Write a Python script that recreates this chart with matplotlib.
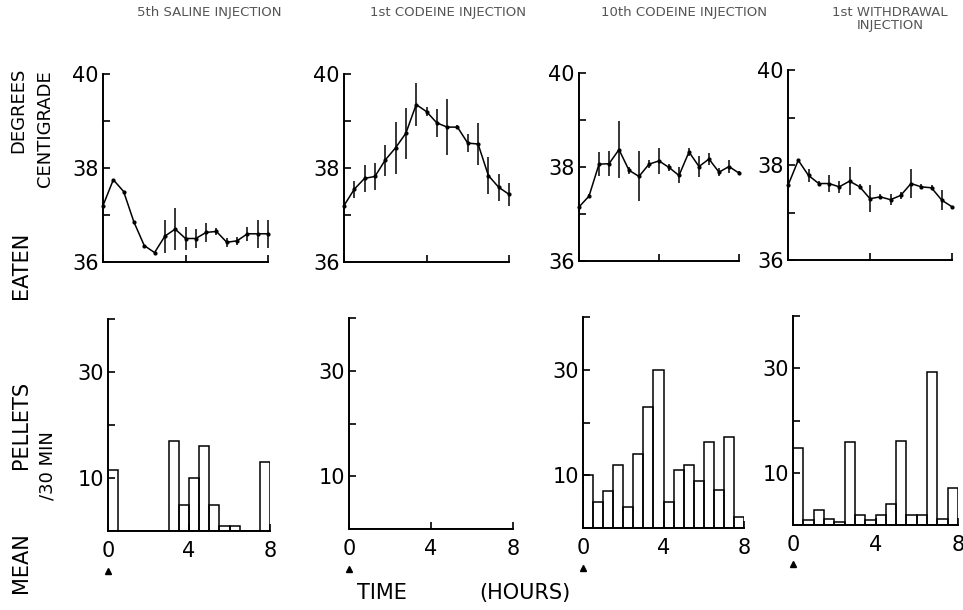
import numpy as np
import matplotlib
matplotlib.use("Agg")
import matplotlib.pyplot as plt

plt.rcParams['font.family'] = ['DejaVu Sans']

# ---------------- data ----------------
panel_titles = ["5th SALINE INJECTION", "1st CODEINE INJECTION",
                "10th CODEINE INJECTION", "1st WITHDRAWAL\nINJECTION"]

# temperature time points (hours)
temp_hours = [0, 0.5, 1, 1.5, 2, 2.5, 3, 3.5, 4, 4.5, 5, 5.5, 6, 6.5, 7, 7.5, 8]

temp_saline = [37.2, 37.75, 37.5, 36.85, 36.35, 36.2, 36.55, 36.7, 36.5, 36.5,
               36.63, 36.65, 36.42, 36.45, 36.6, 36.6, 36.6]
err_saline = [0, 0, 0, 0, 0, 0, 0.35, 0.45, 0.25, 0.2, 0.2, 0.08, 0.1, 0.08, 0.15, 0.3, 0.3]

temp_codeine1 = [37.2, 37.55, 37.78, 37.82, 38.17, 38.43, 38.74, 39.35, 39.2, 38.96,
                 38.87, 38.87, 38.53, 38.51, 37.84, 37.59, 37.44]
err_codeine1 = [0, 0.18, 0.29, 0.29, 0.33, 0.55, 0.54, 0.45, 0.1, 0.29,
                0.6, 0.05, 0.2, 0.45, 0.4, 0.29, 0.25]

temp_codeine10 = [37.15, 37.38, 38.06, 38.07, 38.37, 37.93, 37.8, 38.06, 38.13, 37.99,
                  37.82, 38.32, 38.01, 38.17, 37.89, 38.01, 37.87]
err_codeine10 = [0.08, 0.05, 0.25, 0.26, 0.6, 0.08, 0.53, 0.08, 0.28, 0.08,
                 0.17, 0.08, 0.22, 0.12, 0.08, 0.14, 0.05]

temp_withdrawal = [37.57, 38.1, 37.78, 37.61, 37.61, 37.54, 37.66, 37.54, 37.29, 37.33,
                   37.27, 37.36, 37.61, 37.54, 37.52, 37.26, 37.12]
err_withdrawal = [0, 0, 0.14, 0.05, 0.17, 0.12, 0.3, 0.05, 0.28, 0.05,
                  0.12, 0.08, 0.3, 0.05, 0.05, 0.21, 0]

# food intake, 30-min bins starting at 0 h
bin_starts = [0, 0.5, 1, 1.5, 2, 2.5, 3, 3.5, 4, 4.5, 5, 5.5, 6, 6.5, 7, 7.5]
pellets_saline = [11.5, 0, 0, 0, 0, 0, 17, 5, 10, 16, 5, 1, 1, 0, 0, 13]
pellets_codeine1 = [0] * 16
pellets_codeine10 = [10, 5, 7, 12, 4, 14, 23, 30, 5, 11, 12, 9, 16.3, 7.2, 17.3, 2]
pellets_withdrawal = [14.8, 1, 2.9, 1.1, 0.5, 15.9, 1.9, 1, 1.9, 4.1, 16.1, 1.9, 1.9, 29.3, 1.1, 7]

temp_series = [(temp_saline, err_saline), (temp_codeine1, err_codeine1),
               (temp_codeine10, err_codeine10), (temp_withdrawal, err_withdrawal)]
pellet_series = [pellets_saline, pellets_codeine1, pellets_codeine10, pellets_withdrawal]

# ---------------- layout ----------------
W, H = 963, 610
fig = plt.figure(figsize=(W / 100, H / 100), dpi=100)

def rect(x0, x1, ytop, ybot):
    return [x0 / W, 1 - ybot / H, (x1 - x0) / W, (ybot - ytop) / H]

top_rects = [rect(103, 268, 74, 262), rect(344, 509, 74, 262),
             rect(579, 739, 73, 261), rect(788, 952, 70, 260)]
bot_rects = [rect(108, 270, 319, 531), rect(349, 513, 318, 529),
             rect(583, 744, 317, 528), rect(793, 958, 316, 525)]

tick_fs = 15

def style(ax):
    for s in ['top', 'right']:
        ax.spines[s].set_visible(False)
    for s in ['left', 'bottom']:
        ax.spines[s].set_linewidth(1.4)
    ax.set_facecolor('none')
    ax.tick_params(direction='in', length=5, width=1.2, pad=3, labelsize=tick_fs)

for i in range(4):
    t, e = temp_series[i]
    ax = fig.add_axes(top_rects[i])
    style(ax)
    ax.errorbar(temp_hours, t, yerr=e, color='black', lw=1.1, elinewidth=1.1,
                capsize=0, marker='o', markersize=2, clip_on=False)
    ax.set_xlim(0, 8)
    ax.set_ylim(36, 40)
    ax.set_yticks([36, 37, 38, 39, 40])
    ax.set_yticklabels(['36', '', '38', '', '40'])
    ax.set_xticks([0, 4, 8])
    ax.set_xticklabels([])

    axb = fig.add_axes(bot_rects[i])
    style(axb)
    axb.bar(bin_starts, pellet_series[i], width=0.5, align='edge', fill=False,
            edgecolor='black', linewidth=1.1)
    axb.set_xlim(0, 8)
    axb.set_ylim(0, 40)
    axb.set_yticks([10, 20, 30, 40])
    axb.set_yticklabels(['10', '', '30', ''])
    axb.set_xticks([0, 4, 8])
    axb.set_xticklabels(['0', '4', '8'])
    axb.tick_params(axis='x', pad=7)
    # injection arrow under time 0
    axb.plot([0], [-7.5], marker='^', color='black', markersize=5, clip_on=False)

# panel titles
title_pos = [(209, 6), (448, 6), (684, 6), (890, 6)]
for (x, y), txt in zip(title_pos, panel_titles):
    fig.text(x / W, 1 - y / H, txt, ha='center', va='top', fontsize=9.5,
             color='#555555', linespacing=1.0)

# y-axis labels
fig.text(18 / W, 1 - 68 / H, "DEGREES", rotation=90, ha='center', va='top', fontsize=13)
fig.text(45 / W, 1 - 70 / H, "CENTIGRADE", rotation=90, ha='center', va='top', fontsize=13)
for word, ycen in [("EATEN", 265), ("PELLETS", 425), ("MEAN", 563)]:
    fig.text(21 / W, 1 - ycen / H, word, rotation=90, ha='center', va='center', fontsize=15)
fig.text(47 / W, 1 - 466 / H, "/30 MIN", rotation=90, ha='center', va='center', fontsize=13)

# x-axis label
fig.text(382 / W, 1 - 593 / H, "TIME", ha='center', va='center', fontsize=15)
fig.text(525 / W, 1 - 593 / H, "(HOURS)", ha='center', va='center', fontsize=15)

fig.savefig("out.png", dpi=100)
